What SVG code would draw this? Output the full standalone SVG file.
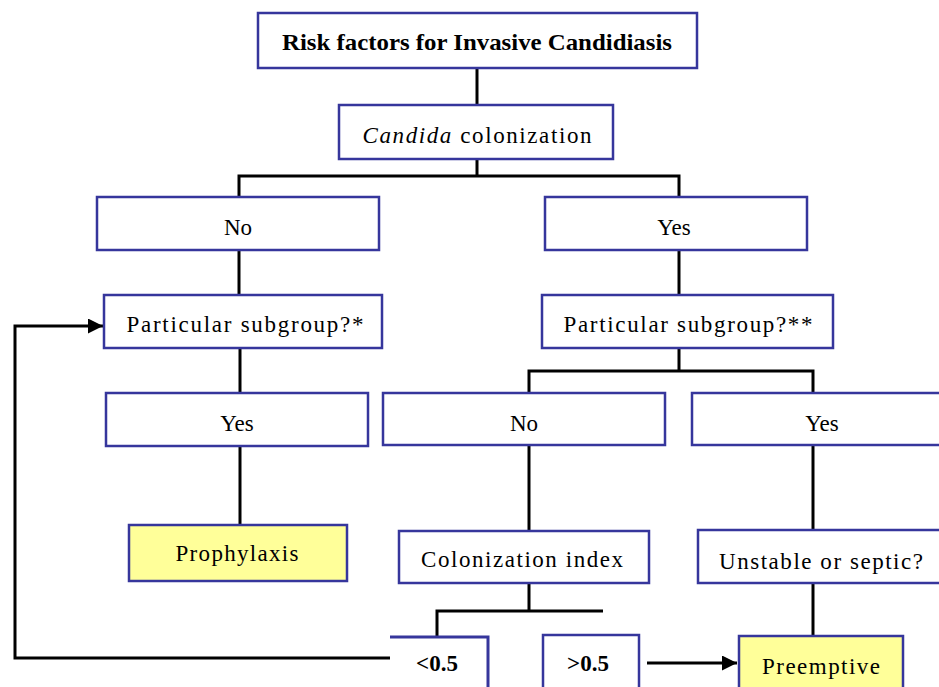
<svg xmlns="http://www.w3.org/2000/svg" width="939" height="687" viewBox="0 0 939 687">
<style>
.box{fill:#ffffff;stroke:#36369c;stroke-width:2.5}
.yel{fill:#ffff99;stroke:#36369c;stroke-width:2.5}
.t{font-family:"Liberation Serif","DejaVu Serif",serif;font-size:23px;fill:#000;text-anchor:middle}
.b{font-weight:bold}
.c{fill:none;stroke:#000;stroke-width:3}
</style>
<defs>
<marker id="ah" viewBox="0 0 10 10" refX="10" refY="5" markerWidth="6" markerHeight="5" markerUnits="strokeWidth" orient="auto">
<path d="M0,0 L10,5 L0,10 Z" fill="#000"/>
</marker>
</defs>
<rect width="939" height="687" fill="#fff"/>
<g id="connectors">
<path class="c" d="M477,68 V105"/>
<path class="c" d="M477,159 V176 M239,197 V176 H679 V197"/>
<path class="c" d="M239,250 V295"/>
<path class="c" d="M679,250 V295"/>
<path class="c" d="M240,348 V393"/>
<path class="c" d="M240,446 V525"/>
<path class="c" d="M679,348 V371 M529,393 V371 H813 V393"/>
<path class="c" d="M529,445 V531"/>
<path class="c" d="M813,445 V530"/>
<path class="c" d="M529,583 V611 M437,636 V611 H603"/>
<path class="c" d="M813,583 V636"/>
<path class="c" d="M390,658 H15 V326 H103" marker-end="url(#ah)"/>
<path class="c" d="M647,663 H737" marker-end="url(#ah)"/>
</g>
<g id="n-title">
<rect class="box" x="258" y="13" width="439" height="55" stroke-width="3"/>
<text class="t b" x="477" y="50" font-size="21" textLength="390" lengthAdjust="spacingAndGlyphs">Risk factors for Invasive Candidiasis</text>
</g>
<g id="n-colonization">
<rect class="box" x="339" y="105" width="274" height="54"/>
<text class="t" x="477" y="143" textLength="229" lengthAdjust="spacing"><tspan font-style="italic">Candida</tspan> colonization</text>
</g>
<g id="n-no1">
<rect class="box" x="97" y="197" width="282" height="53"/>
<text class="t" x="238" y="235">No</text>
</g>
<g id="n-yes1">
<rect class="box" x="545" y="197" width="262" height="53"/>
<text class="t" x="674" y="235">Yes</text>
</g>
<g id="n-sub1">
<rect class="box" x="104" y="295" width="278" height="53"/>
<text class="t" x="245" y="332" textLength="237" lengthAdjust="spacing">Particular subgroup?*</text>
</g>
<g id="n-sub2">
<rect class="box" x="542" y="295" width="291" height="53"/>
<text class="t" x="688" y="332" textLength="249" lengthAdjust="spacing">Particular subgroup?**</text>
</g>
<g id="n-yes2">
<rect class="box" x="106" y="393" width="262" height="53"/>
<text class="t" x="237" y="431">Yes</text>
</g>
<g id="n-no2">
<rect class="box" x="383" y="393" width="282" height="52"/>
<text class="t" x="524" y="431">No</text>
</g>
<g id="n-yes3">
<rect class="box" x="692" y="393" width="260" height="52"/>
<text class="t" x="822" y="431">Yes</text>
</g>
<g id="n-prophylaxis">
<rect class="yel" x="129" y="525" width="218" height="56"/>
<text class="t" x="237" y="561" textLength="123" lengthAdjust="spacing">Prophylaxis</text>
</g>
<g id="n-index">
<rect class="box" x="399" y="531" width="250" height="52"/>
<text class="t" x="522" y="567" textLength="202" lengthAdjust="spacing">Colonization index</text>
</g>
<g id="n-unstable">
<rect class="box" x="698" y="530" width="254" height="53"/>
<text class="t" x="821" y="569" textLength="204" lengthAdjust="spacing">Unstable or septic?</text>
</g>
<g id="n-lt">
<path d="M390,637 H488 V690" fill="#fff" stroke="#36369c" stroke-width="3"/>
<text class="t b" x="437" y="671" font-size="22">&lt;0.5</text>
</g>
<g id="n-gt">
<rect class="box" x="543" y="635" width="96" height="60" stroke-width="4"/>
<text class="t b" x="588" y="671" font-size="22">&gt;0.5</text>
</g>
<g id="n-preemptive">
<rect class="yel" x="739" y="636" width="164" height="60" stroke-width="3"/>
<text class="t" x="821" y="674" textLength="118" lengthAdjust="spacing">Preemptive</text>
</g>
</svg>
